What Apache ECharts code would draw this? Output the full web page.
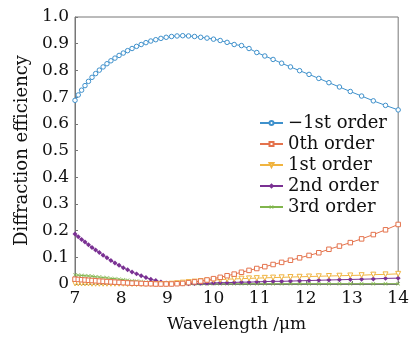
<!DOCTYPE html>
<html>
<head>
<meta charset="utf-8">
<script src="https://cdn.jsdelivr.net/npm/echarts@6/dist/echarts.min.js"></script>
<style>
html,body{margin:0;padding:0;background:#fff;}
#chart{width:412px;height:340px;}
</style>
</head>
<body>
<div id="chart"></div>
<script>
// Wavelength samples (µm)
const wavelength = [7.0000, 7.0707, 7.1429, 7.2165, 7.2917, 7.3684, 7.4468, 7.5269, 7.6087, 7.6923,
  7.7778, 7.8652, 7.9545, 8.0460, 8.1395, 8.2353, 8.3333, 8.4337, 8.5366, 8.6420,
  8.7500, 8.8608, 8.9744, 9.0909, 9.2105, 9.3333, 9.4595, 9.5890, 9.7222, 9.8592,
  10.0000, 10.1449, 10.2941, 10.4478, 10.6061, 10.7692, 10.9375, 11.1111, 11.2903, 11.4754,
  11.6667, 11.8644, 12.0690, 12.2807, 12.5000, 12.7273, 12.9630, 13.2075, 13.4615, 13.7255,
  14.0000];

const orderMinus1 = [0.688, 0.708, 0.726, 0.743, 0.759, 0.774, 0.788, 0.801, 0.813, 0.825,
  0.836, 0.846, 0.856, 0.865, 0.874, 0.882, 0.890, 0.897, 0.904, 0.910,
  0.915, 0.920, 0.924, 0.927, 0.929, 0.930, 0.929, 0.927, 0.924, 0.921,
  0.917, 0.912, 0.905, 0.897, 0.893, 0.882, 0.867, 0.854, 0.841, 0.827,
  0.813, 0.799, 0.785, 0.770, 0.754, 0.738, 0.721, 0.704, 0.686, 0.669,
  0.652];

const order0 = [0.018, 0.017, 0.016, 0.015, 0.014, 0.013, 0.012, 0.011, 0.010, 0.009,
  0.008, 0.007, 0.006, 0.005, 0.004, 0.003, 0.003, 0.002, 0.001, 0.001,
  0.000, 0.000, 0.000, 0.000, 0.001, 0.002, 0.005, 0.008, 0.011, 0.015,
  0.020, 0.025, 0.031, 0.037, 0.044, 0.051, 0.058, 0.065, 0.073, 0.081,
  0.089, 0.098, 0.107, 0.117, 0.130, 0.142, 0.155, 0.169, 0.185, 0.203,
  0.223];

const order1 = [0.002, 0.002, 0.002, 0.002, 0.002, 0.001, 0.001, 0.001, 0.001, 0.001,
  0.001, 0.001, 0.001, 0.001, 0.000, 0.000, 0.000, 0.000, 0.000, 0.000,
  0.000, 0.000, 0.000, 0.001, 0.003, 0.005, 0.007, 0.009, 0.011, 0.013,
  0.015, 0.016, 0.018, 0.019, 0.020, 0.021, 0.022, 0.023, 0.024, 0.025,
  0.026, 0.027, 0.028, 0.029, 0.030, 0.031, 0.032, 0.033, 0.035, 0.036,
  0.038];

const order2 = [0.187, 0.177, 0.167, 0.157, 0.147, 0.137, 0.127, 0.118, 0.108, 0.098,
  0.088, 0.079, 0.070, 0.061, 0.053, 0.045, 0.038, 0.031, 0.024, 0.018,
  0.013, 0.008, 0.004, 0.002, 0.001, 0.001, 0.001, 0.002, 0.003, 0.003,
  0.004, 0.005, 0.005, 0.006, 0.007, 0.007, 0.008, 0.009, 0.010, 0.010,
  0.011, 0.012, 0.013, 0.014, 0.015, 0.016, 0.017, 0.018, 0.019, 0.021,
  0.022];

const order3 = [0.034, 0.033, 0.032, 0.031, 0.030, 0.029, 0.027, 0.026, 0.024, 0.023,
  0.021, 0.020, 0.018, 0.016, 0.014, 0.012, 0.011, 0.009, 0.007, 0.006,
  0.004, 0.003, 0.002, 0.001, 0.001, 0.001, 0.001, 0.001, 0.001, 0.001,
  0.001, 0.001, 0.001, 0.001, 0.001, 0.001, 0.001, 0.001, 0.001, 0.001,
  0.001, 0.001, 0.001, 0.001, 0.001, 0.001, 0.001, 0.001, 0.001, 0.001,
  0.001];

const seriesNames = ['\u22121st order', '0th order', '1st order', '2nd order', '3rd order'];
const xTicks = [7, 8, 9, 10, 11, 12, 13, 14];
const yTicks = [0, 0.1, 0.2, 0.3, 0.4, 0.5, 0.6, 0.7, 0.8, 0.9, 1.0];

const FONT = 'DejaVu Serif';
const colors = ['#3f91cc', '#e4734d', '#f0b440', '#7a3193', '#80b54c'];
const xMark = 'path://M0,1L1,0L5,4L9,0L10,1L6,5L10,9L9,10L5,6L1,10L0,9L4,5Z';

function pairs(ys) { return wavelength.map((x, i) => [x, ys[i]]); }

const seriesData = [orderMinus1, order0, order1, order2, order3];
const symbols = ['circle', 'rect', 'triangle', 'rect', xMark];
const symbolSizes = [4.5, 4.5, 5, 3.5, 4];
const rotates = [0, 0, 180, 45, 0];
const hollow = [true, true, true, false, false];

const series = seriesData.map((d, k) => ({
  name: seriesNames[k],
  type: 'line',
  data: pairs(d),
  symbol: symbols[k],
  symbolSize: symbolSizes[k],
  symbolRotate: rotates[k],
  showAllSymbol: true,
  animation: false,
  z: 10 - k,
  lineStyle: { color: colors[k], width: 1 },
  itemStyle: hollow[k]
    ? { color: '#fff', borderColor: colors[k], borderWidth: 1 }
    : { color: colors[k], borderColor: colors[k], borderWidth: 0 }
}));

const chart = echarts.init(document.getElementById('chart'), null, { renderer: 'canvas' });
chart.setOption({
  backgroundColor: '#fff',
  animation: false,
  grid: { left: 75, right: 10, top: 17, bottom: 56, show: true, borderColor: '#777', borderWidth: 1 },
  legend: {
    orient: 'vertical',
    left: 254,
    top: 109,
    itemWidth: 23,
    itemHeight: 5,
    itemGap: 3,
    data: seriesNames,
    textStyle: { fontFamily: FONT, fontSize: 18, color: '#111', lineHeight: 18 }
  },
  xAxis: {
    type: 'value',
    min: 7, max: 14, interval: 1,
    name: 'Wavelength /\u03bcm',
    nameLocation: 'middle',
    nameGap: 32,
    nameTextStyle: { fontFamily: FONT, fontSize: 17, color: '#111' },
    axisLine: { show: true, lineStyle: { color: '#777', width: 1 } },
    axisTick: { show: true, inside: true, length: 3, lineStyle: { color: '#777' } },
    axisLabel: {
      fontFamily: FONT, fontSize: 17, color: '#111', margin: 6,
      formatter: v => (xTicks.indexOf(v) >= 0 ? String(v) : '')
    },
    splitLine: { show: false }
  },
  yAxis: {
    type: 'value',
    min: 0, max: 1, interval: 0.1,
    name: 'Diffraction efficiency',
    nameLocation: 'middle',
    nameGap: 38,
    nameTextStyle: { fontFamily: FONT, fontSize: 18, color: '#111' },
    axisLine: { show: true, lineStyle: { color: '#777', width: 1 } },
    axisTick: { show: true, inside: true, length: 3, lineStyle: { color: '#777' } },
    axisLabel: {
      fontFamily: FONT, fontSize: 17, color: '#111', margin: 6,
      formatter: v => {
        const t = yTicks.find(y => Math.abs(y - v) < 1e-9);
        if (t === undefined) return '';
        return t === 0 ? '0' : t.toFixed(1);
      }
    },
    splitLine: { show: false }
  },
  series: series
});
</script>
</body>
</html>
